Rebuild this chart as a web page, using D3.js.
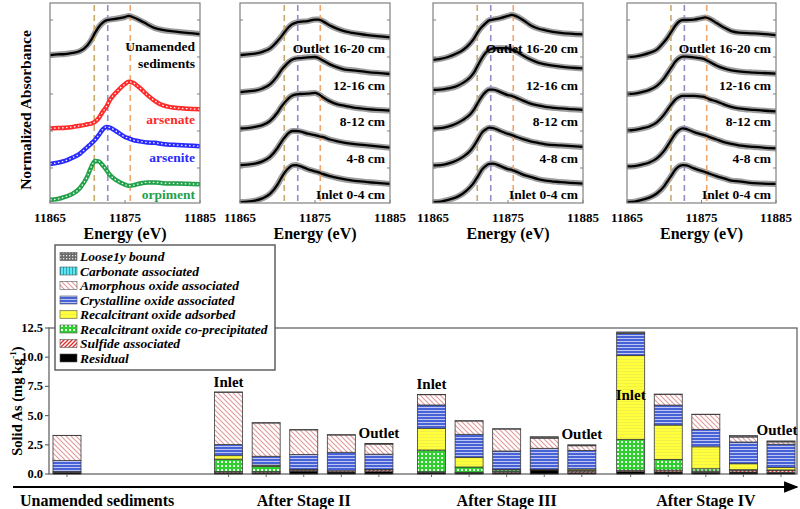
<!DOCTYPE html>
<html><head><meta charset="utf-8">
<script src="https://cdn.jsdelivr.net/npm/d3@7"></script>
<style>
body{margin:0;background:#fff}
</style>
</head><body>
<svg id="c" width="800" height="509" font-family="'Liberation Serif', 'DejaVu Serif', serif" font-weight="bold"></svg>
<script>
// ---------------- DATA ----------------
const energies = [11865,11866,11867,11868,11869,11870,11870.5,11871,11871.5,11872,11872.5,11873,11874,11875,11875.5,11876,11877,11878,11879,11880,11882,11885];
const energyTicks = [11865, 11875, 11885];
const edgeMarkers = [11870.9, 11872.7, 11875.7];

// panel 1 (stacked normalized absorbance, offset)
const unamendedSpec = [3.05,3.07,3.08,3.11,3.16,3.32,3.46,3.65,3.81,3.92,3.99,4.01,4.04,4.08,4.11,4.08,3.99,3.88,3.78,3.73,3.68,3.62];
const arsenateSpec  = [1.07,1.08,1.09,1.11,1.14,1.18,1.20,1.25,1.35,1.51,1.65,1.84,2.08,2.27,2.33,2.31,2.16,1.97,1.81,1.70,1.62,1.59];
const arseniteSpec  = [0.11,0.14,0.19,0.28,0.39,0.57,0.66,0.76,0.89,1.03,1.11,1.09,0.97,0.84,0.80,0.76,0.72,0.69,0.68,0.65,0.62,0.59];
const orpimentSpec  = [-0.86,-0.84,-0.78,-0.70,-0.54,-0.22,0.03,0.19,0.18,0.08,-0.05,-0.19,-0.35,-0.45,-0.48,-0.47,-0.42,-0.39,-0.39,-0.41,-0.42,-0.44];
const referenceNames = ["arsenate","arsenite","orpiment"];
const referenceColors = ["#ff2a2a","#2a2aff","#22a04a"];

const depthLabels = ["Outlet 16-20 cm","12-16 cm","8-12 cm","4-8 cm","Inlet 0-4 cm"];
const stageIISpec = [
 [3.05,3.07,3.09,3.14,3.23,3.43,3.55,3.69,3.81,3.89,3.93,3.95,3.97,4.01,4.01,3.97,3.85,3.76,3.69,3.65,3.59,3.53],
 [2.05,2.07,2.09,2.15,2.26,2.49,2.64,2.76,2.86,2.93,2.96,2.97,2.99,3.00,2.97,2.91,2.80,2.72,2.66,2.64,2.59,2.54],
 [1.07,1.08,1.11,1.16,1.27,1.50,1.65,1.78,1.89,1.96,1.99,2.00,2.01,2.03,1.99,1.92,1.80,1.72,1.68,1.64,1.59,1.55],
 [0.08,0.09,0.12,0.18,0.30,0.54,0.70,0.84,0.95,1.00,1.00,0.99,0.93,0.89,0.86,0.84,0.77,0.72,0.68,0.65,0.61,0.55],
 [-0.92,-0.91,-0.88,-0.82,-0.70,-0.45,-0.27,-0.11,0.00,0.07,0.08,0.05,-0.03,-0.09,-0.12,-0.16,-0.22,-0.27,-0.31,-0.34,-0.38,-0.43]
];
const stageIIISpec = [
 [2.92,2.95,3.00,3.08,3.19,3.38,3.51,3.68,3.81,3.91,3.99,4.01,4.05,4.11,4.14,4.11,4.00,3.86,3.77,3.72,3.65,3.61],
 [2.11,2.12,2.15,2.20,2.30,2.46,2.59,2.78,2.96,3.11,3.19,3.23,3.24,3.23,3.20,3.16,3.04,2.93,2.85,2.80,2.74,2.69],
 [1.07,1.08,1.12,1.19,1.30,1.46,1.59,1.77,1.93,2.05,2.12,2.12,2.05,1.97,1.95,1.91,1.82,1.74,1.69,1.65,1.61,1.57],
 [0.07,0.08,0.12,0.19,0.30,0.47,0.61,0.78,0.95,1.04,1.09,1.08,1.00,0.92,0.89,0.85,0.78,0.72,0.68,0.64,0.61,0.57],
 [-0.92,-0.91,-0.86,-0.80,-0.69,-0.51,-0.38,-0.22,-0.05,0.05,0.11,0.12,0.05,-0.03,-0.05,-0.09,-0.18,-0.24,-0.30,-0.34,-0.38,-0.42]
];
const stageIVSpec = [
 [3.00,3.01,3.05,3.11,3.20,3.41,3.54,3.70,3.85,3.96,4.00,4.00,4.01,4.05,4.07,4.04,3.92,3.80,3.70,3.66,3.64,3.59],
 [2.00,2.01,2.05,2.11,2.22,2.43,2.58,2.73,2.88,2.97,3.01,3.01,2.99,2.96,2.93,2.88,2.77,2.69,2.64,2.61,2.58,2.55],
 [1.01,1.03,1.07,1.12,1.23,1.45,1.59,1.73,1.85,1.92,1.95,1.95,1.95,1.93,1.91,1.86,1.80,1.72,1.65,1.61,1.57,1.53],
 [0.04,0.05,0.09,0.15,0.26,0.47,0.62,0.78,0.93,1.03,1.07,1.05,0.97,0.91,0.88,0.84,0.77,0.70,0.65,0.61,0.57,0.53],
 [-0.92,-0.91,-0.86,-0.80,-0.69,-0.49,-0.34,-0.19,-0.04,0.05,0.08,0.07,-0.01,-0.08,-0.11,-0.15,-0.22,-0.28,-0.34,-0.36,-0.41,-0.43]
];

// bar chart: 16 columns (Unamended, Stage II x5, Stage III x5, Stage IV x5)
const groupNames = ["Unamended sediments","After Stage II","After Stage III","After Stage IV"];
const groupSizes = [1,5,5,5];
const fractionNames = ["Loose1y bound","Carbonate associated","Amorphous oxide associated","Crystalline oxide associated","Recalcitrant oxide adsorbed","Recalcitrant oxide co-precipitated","Sulfide associated","Residual"];
const residual    = [0.15,0.10,0.10,0.25,0.18,0.20, 0.12,0.10,0.10,0.35,0.10, 0.20,0.18,0.15,0.17,0.15];
const sulfide     = [0.05,0.10,0.10,0.10,0.10,0.15, 0.07,0.05,0.10,0.05,0.15, 0.12,0.15,0.10,0.15,0.15];
const coprecip    = [0.00,1.07,0.45,0.05,0.00,0.00, 1.86,0.45,0.15,0.00,0.05, 2.65,0.92,0.20,0.05,0.05];
const adsorbed    = [0.00,0.30,0.10,0.00,0.00,0.03, 1.86,0.83,0.05,0.00,0.12, 7.19,2.94,1.88,0.51,0.20];
const crystalline = [0.95,0.95,0.77,1.28,1.58,1.32, 2.00,1.97,1.57,1.80,1.60, 1.86,1.71,1.49,1.86,2.00];
const amorphous   = [2.14,4.48,2.85,2.10,1.48,0.86, 0.88,1.14,1.88,0.87,0.40, 0.00,0.92,1.28,0.43,0.20];
const carbonate   = [0,0,0,0,0,0, 0,0,0,0,0, 0,0,0,0,0];
const loosely     = [0.02,0.02,0.02,0.02,0.02,0.05, 0.02,0.02,0.02,0.12,0.08, 0.14,0.02,0.02,0.12,0.08];
const yBarTicks = [0,2.5,5,7.5,10,12.5];

// ---------------- DRAW ----------------
const svg = d3.select("#c");
const defs = svg.append("defs");

function pat(id,w,h,draw){
  const p = defs.append("pattern").attr("id",id).attr("patternUnits","userSpaceOnUse").attr("width",w).attr("height",h);
  draw(p);
}
pat("pLoose",3,3,p=>{p.append("rect").attr("width",3).attr("height",3).attr("fill","#6a6a6a");
  p.append("rect").attr("x",0).attr("y",0).attr("width",1.3).attr("height",1.3).attr("fill","#e8e8e8");});
pat("pCarb",3,4,p=>{p.append("rect").attr("width",3).attr("height",4).attr("fill","#5ae6f2");
  p.append("rect").attr("x",0).attr("width",0.8).attr("height",4).attr("fill","#2a8fa0");});
pat("pAmor",5,5,p=>{p.append("rect").attr("width",5).attr("height",5).attr("fill","#fff");
  p.append("path").attr("d","M-1,-1 L6,6 M-1,4 L1,6 M4,-1 L6,1").attr("stroke","#e09a9a").attr("stroke-width",1.1);});
pat("pCrys",4,3,p=>{p.append("rect").attr("width",4).attr("height",3).attr("fill","#4762d6");
  p.append("rect").attr("y",2).attr("width",4).attr("height",0.9).attr("fill","#c9d2f5");});
pat("pAds",4,3,p=>{p.append("rect").attr("width",4).attr("height",3).attr("fill","#ffff3c");
  p.append("rect").attr("y",2).attr("width",4).attr("height",0.6).attr("fill","#e6e650");});
pat("pCop",4,4,p=>{p.append("rect").attr("width",4).attr("height",4).attr("fill","#2fcf2f");
  p.append("rect").attr("x",1).attr("y",1).attr("width",2).attr("height",2).attr("fill","#e8ffe8");});
pat("pSulf",4,4,p=>{p.append("rect").attr("width",4).attr("height",4).attr("fill","#fff");
  p.append("path").attr("d","M-1,5 L5,-1 M-1,1 L1,-1 M3,5 L5,3").attr("stroke","#e02828").attr("stroke-width",1.3);});
pat("pRes",4,4,p=>{p.append("rect").attr("width",4).attr("height",4).attr("fill","#000");});
const fills = ["url(#pLoose)","url(#pCarb)","url(#pAmor)","url(#pCrys)","url(#pAds)","url(#pCop)","url(#pSulf)","url(#pRes)"];

// ---------- Top XANES panels ----------
const panelTop = 3, panelBottom = 203;
const yTop = d3.scaleLinear().domain([-0.946, 4.459]).range([panelBottom, panelTop]);
const markerColors = ["#c8aa6e","#8e8ec8","#f2a46a"];

function drawPanel(x0, x1, idx, draw){
  const x = d3.scaleLinear().domain([11865,11885]).range([x0,x1]);
  const g = svg.append("g");
  const cid = "clip"+idx;
  defs.append("clipPath").attr("id",cid).append("rect").attr("x",x0).attr("y",panelTop).attr("width",x1-x0).attr("height",panelBottom-panelTop);
  const line = d3.line().x(d=>x(d[0])).y(d=>yTop(d[1])).curve(d3.curveMonotoneX);
  const inner = g.append("g").attr("clip-path",`url(#${cid})`);
  draw(inner, x, line, x1);
  g.append("rect").attr("x",x0).attr("y",panelTop).attr("width",x1-x0).attr("height",panelBottom-panelTop)
    .attr("fill","none").attr("stroke","#808080").attr("stroke-width",1.2);
  [0,1,2,3,4].forEach(v=>{
    g.append("line").attr("x1",x0).attr("x2",x0+3).attr("y1",yTop(v)).attr("y2",yTop(v)).attr("stroke","#808080");
    g.append("line").attr("x1",x1).attr("x2",x1-3).attr("y1",yTop(v)).attr("y2",yTop(v)).attr("stroke","#808080");
  });
  energyTicks.forEach(e=>{
    g.append("line").attr("x1",x(e)).attr("x2",x(e)).attr("y1",panelBottom).attr("y2",panelBottom-3).attr("stroke","#808080");
    g.append("text").attr("x",x(e)).attr("y",222).attr("text-anchor","middle").attr("font-size",13).text(e);
  });
  g.append("text").attr("x",(x0+x1)/2).attr("y",239).attr("text-anchor","middle").attr("font-size",16).text("Energy (eV)");
}

function pts(arr){ return energies.map((e,i)=>[e,arr[i]]); }
function markers(inner, x){
  edgeMarkers.forEach((e,i)=>{
    inner.append("line").attr("x1",x(e)).attr("x2",x(e)).attr("y1",panelTop+2).attr("y2",panelBottom)
      .attr("stroke",markerColors[i]).attr("stroke-width",1.6).attr("stroke-dasharray","6,4");
  });
}
function sample(inner, line, arr){
  inner.append("path").attr("d",line(pts(arr))).attr("fill","none").attr("stroke","#8c8c8c").attr("stroke-width",6).attr("opacity",0.85);
}
function fit(inner, line, arr){
  inner.append("path").attr("d",line(pts(arr))).attr("fill","none").attr("stroke","#000").attr("stroke-width",2.3);
}

drawPanel(50, 200, 1, (inner, x, line, x1)=>{
  sample(inner, line, unamendedSpec);
  markers(inner, x);
  fit(inner, line, unamendedSpec);
  [arsenateSpec, arseniteSpec, orpimentSpec].forEach((s,i)=>{
    inner.append("path").attr("d",line(pts(s))).attr("fill","none").attr("stroke",referenceColors[i]).attr("stroke-width",4.5);
    inner.append("path").attr("d",line(pts(s))).attr("fill","none").attr("stroke","#fff").attr("stroke-width",1.3)
      .attr("stroke-dasharray","1.6,2.4").attr("opacity",0.9);
  });
  const t = svg.append("text").attr("x",x1-5).attr("text-anchor","end").attr("font-size",13.5);
  t.append("tspan").attr("x",x1-5).attr("y",yTop(3.16)).text("Unamended");
  t.append("tspan").attr("x",x1-5).attr("y",yTop(2.70)).text("sediments");
  const refLabelY = [1.19, 0.16, -0.84];
  referenceNames.forEach((n,i)=>{
    svg.append("text").attr("x",x1-5).attr("y",yTop(refLabelY[i])).attr("text-anchor","end")
      .attr("font-size",13.5).attr("fill",referenceColors[i]).text(n);
  });
});

function depthPanel(x0,x1,idx,specs){
  drawPanel(x0,x1,idx,(inner,x,line,xr)=>{
    specs.forEach(s=>sample(inner,line,s));
    markers(inner,x);
    specs.forEach(s=>fit(inner,line,s));
    depthLabels.forEach((lab,i)=>{
      svg.append("text").attr("x",xr-5).attr("y",yTop(3.1-0.985*i)).attr("text-anchor","end")
        .attr("font-size",13.5).text(lab);
    });
  });
}
depthPanel(240, 390, 2, stageIISpec);
depthPanel(433, 583, 3, stageIIISpec);
depthPanel(627, 776, 4, stageIVSpec);

svg.append("text").attr("transform","translate(31,110) rotate(-90)").attr("text-anchor","middle")
  .attr("font-size",15.5).text("Normalized Absorbance");

// ---------- Bar chart ----------
const yBar = d3.scaleLinear().domain([0,12.5]).range([474,328]);
const groupStartSlot = [0, 4.3, 9.7, 15];
const slots = [];
groupSizes.forEach((n,gi)=>{ for(let k=0;k<n;k++) slots.push(groupStartSlot[gi]+k); });
const xBar = d3.scaleLinear().domain([0,19]).range([67,781]);
const barW = 28;

const frameL = 49, frameR = 797;
svg.append("rect").attr("x",frameL).attr("y",yBar(12.5)).attr("width",frameR-frameL).attr("height",yBar(0)-yBar(12.5))
  .attr("fill","none").attr("stroke","#666").attr("stroke-width",1.3);
yBarTicks.forEach(v=>{
  svg.append("line").attr("x1",frameL-4).attr("x2",frameL).attr("y1",yBar(v)).attr("y2",yBar(v)).attr("stroke","#666").attr("stroke-width",1.2);
  svg.append("text").attr("x",frameL-6).attr("y",yBar(v)+4).attr("text-anchor","end").attr("font-size",12.5).text(d3.format(".1f")(v));
});
slots.forEach(s=>{
  svg.append("line").attr("x1",xBar(s)).attr("x2",xBar(s)).attr("y1",yBar(0)).attr("y2",yBar(0)+3).attr("stroke","#666");
});

const stackKeys = ["residual","sulfide","coprecip","adsorbed","crystalline","amorphous","carbonate","loosely"];
const series = {residual, sulfide, coprecip, adsorbed, crystalline, amorphous, carbonate, loosely};
const rows = slots.map((s,i)=>{ const r={slot:s}; stackKeys.forEach(k=>r[k]=series[k][i]); return r; });
const stacked = d3.stack().keys(stackKeys)(rows);
const keyFill = {loosely:fills[0],carbonate:fills[1],amorphous:fills[2],crystalline:fills[3],adsorbed:fills[4],coprecip:fills[5],sulfide:fills[6],residual:fills[7]};
const barG = svg.append("g");
stacked.forEach(layer=>{
  barG.selectAll(null).data(layer.filter(d=>d[1]-d[0]>0)).enter().append("rect")
    .attr("x",d=>xBar(d.data.slot)-barW/2).attr("width",barW)
    .attr("y",d=>yBar(d[1])).attr("height",d=>yBar(d[0])-yBar(d[1]))
    .attr("fill",keyFill[layer.key]).attr("stroke","#3a3a3a").attr("stroke-width",0.8);
});

const totals = rows.map(r=>stackKeys.reduce((a,k)=>a+r[k],0));
let idx0 = 0;
groupSizes.forEach((n,gi)=>{
  if(n>1){
    const first = idx0, last = idx0+n-1;
    const tIn = totals[first];
    const yIn = tIn>10 ? yBar(6.3) : yBar(tIn)-5;
    svg.append("text").attr("x",xBar(slots[first])).attr("y",yIn).attr("text-anchor","middle").attr("font-size",15).text("Inlet");
    svg.append("text").attr("x",Math.min(xBar(slots[last]), frameR-20)).attr("y",yBar(totals[last])-6).attr("text-anchor","middle").attr("font-size",15).text("Outlet");
  }
  idx0 += n;
});

const lg = svg.append("g");
lg.append("rect").attr("x",55).attr("y",245).attr("width",220).attr("height",125).attr("fill","#fff").attr("stroke","#555").attr("stroke-width",1.4);
fractionNames.forEach((n,i)=>{
  const cy = 256.5 + i*14.5;
  lg.append("rect").attr("x",60).attr("y",cy-4).attr("width",17).attr("height",8).attr("fill",fills[i]).attr("stroke","#555").attr("stroke-width",0.6);
  lg.append("text").attr("x",80).attr("y",cy+4.5).attr("font-size",13.5).attr("font-style","italic").text(n);
});

const yl = svg.append("text").attr("transform","translate(22,401) rotate(-90)").attr("text-anchor","middle").attr("font-size",14.5);
yl.append("tspan").text("Solid As (mg kg");
yl.append("tspan").attr("font-size",9).attr("dy",-6).text("-1");
yl.append("tspan").attr("dy",6).text(")");

defs.append("marker").attr("id","arr").attr("viewBox","0 0 10 10").attr("refX",9).attr("refY",5)
  .attr("markerWidth",8).attr("markerHeight",8).attr("orient","auto")
  .append("path").attr("d","M0,1 L10,5 L0,9 Z").attr("fill","#000");
svg.append("line").attr("x1",13).attr("x2",797).attr("y1",487).attr("y2",487).attr("stroke","#000").attr("stroke-width",1.8).attr("marker-end","url(#arr)");

idx0 = 0;
groupSizes.forEach((n,gi)=>{
  if(gi===0){
    svg.append("text").attr("x",20).attr("y",506).attr("font-size",16).text(groupNames[gi]);
  } else {
    const cx = (xBar(slots[idx0])+xBar(slots[idx0+n-1]))/2;
    svg.append("text").attr("x",cx).attr("y",506).attr("text-anchor","middle").attr("font-size",16).text(groupNames[gi]);
  }
  idx0 += n;
});
</script>
</body></html>
